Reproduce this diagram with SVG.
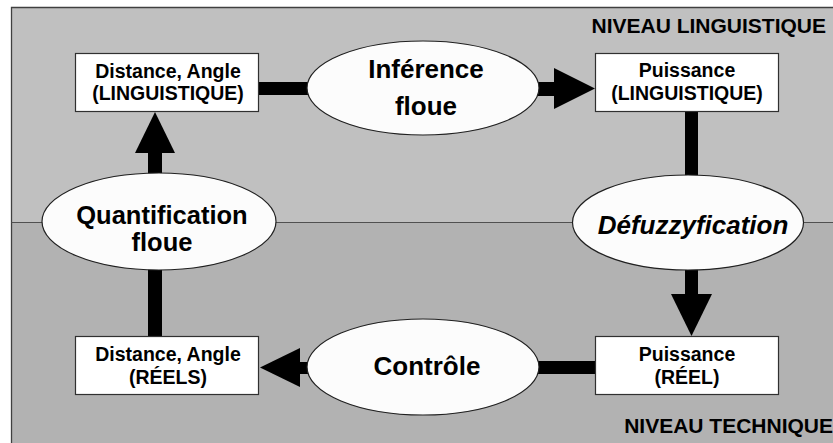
<svg xmlns="http://www.w3.org/2000/svg" width="833" height="443" viewBox="0 0 833 443">
<style>
.box{fill:#ffffff;stroke:#303030;stroke-width:1.2}
.ell{fill:#fcfcfc;stroke:#202020;stroke-width:1.2}
text{font-family:"Liberation Sans",Arial,sans-serif;font-weight:bold;fill:#000;text-anchor:middle}
.bt{font-size:19.5px}
.et{font-size:26px}
.lvl{font-size:21px;text-anchor:end}
.bar{fill:#000}
</style>
<rect x="0" y="0" width="833" height="443" fill="#ffffff"/>
<g id="background">
<rect x="11.5" y="7.5" width="830" height="215" fill="#c0c0c0" stroke="none"/>
<rect x="11.5" y="222.5" width="830" height="230" fill="#b2b2b2" stroke="none"/>
<path d="M11.5 450 V7.5 H840" fill="none" stroke="#404040" stroke-width="1.3"/>
<line x1="11.5" y1="222.5" x2="840" y2="222.5" stroke="#505050" stroke-width="1.2"/>
<text class="lvl" x="826" y="33">NIVEAU LINGUISTIQUE</text>
<text class="lvl" x="833" y="433">NIVEAU TECHNIQUE</text>
</g>
<g id="connectors">
<rect class="bar" x="259" y="82" width="50" height="13"/>
<rect class="bar" x="536" y="82" width="20" height="14"/>
<polygon class="bar" points="554,68 595,88.5 554,109"/>
<rect class="bar" x="685" y="111" width="13" height="66"/>
<rect class="bar" x="685" y="268" width="13" height="27"/>
<polygon class="bar" points="671,294 712,294 691.5,336"/>
<rect class="bar" x="537" y="361" width="59" height="13"/>
<rect class="bar" x="298" y="362" width="11" height="12"/>
<polygon class="bar" points="300,348 300,387 260,367.5"/>
<rect class="bar" x="148" y="268" width="14" height="69"/>
<rect class="bar" x="148" y="152" width="14" height="23"/>
<polygon class="bar" points="135,153 175,153 155,112"/>
</g>
<g id="n-dist-ling">
<rect class="box" x="75.5" y="53.5" width="183" height="58"/>
<text class="bt" x="168" y="78">Distance, Angle</text>
<text class="bt" x="168" y="100">(LINGUISTIQUE)</text>
</g>
<g id="n-inference">
<ellipse class="ell" cx="423" cy="88" rx="116" ry="47"/>
<text class="et" x="426" y="78">Inférence</text>
<text class="et" x="426" y="115">floue</text>
</g>
<g id="n-puis-ling">
<rect class="box" x="595.5" y="53.5" width="183" height="58"/>
<text class="bt" x="687" y="77">Puissance</text>
<text class="bt" x="687" y="100">(LINGUISTIQUE)</text>
</g>
<g id="n-defuzz">
<ellipse class="ell" cx="688" cy="222.5" rx="115.5" ry="47.5"/>
<text class="et" x="693" y="234" font-style="italic">Défuzzyfication</text>
</g>
<g id="n-quantif">
<ellipse class="ell" cx="159" cy="221.5" rx="117" ry="48.5"/>
<text class="et" x="162" y="224" style="font-size:25.5px">Quantification</text>
<text class="et" x="162" y="251" style="font-size:25.5px">floue</text>
</g>
<g id="n-dist-reel">
<rect class="box" x="75.5" y="336.5" width="183" height="58"/>
<text class="bt" x="168" y="361">Distance, Angle</text>
<text class="bt" x="168" y="384">(RÉELS)</text>
</g>
<g id="n-controle">
<ellipse class="ell" cx="423" cy="367" rx="116" ry="48"/>
<text class="et" x="427" y="375">Contrôle</text>
</g>
<g id="n-puis-reel">
<rect class="box" x="595.5" y="336.5" width="183" height="58"/>
<text class="bt" x="687" y="361">Puissance</text>
<text class="bt" x="687" y="384">(RÉEL)</text>
</g>
</svg>
